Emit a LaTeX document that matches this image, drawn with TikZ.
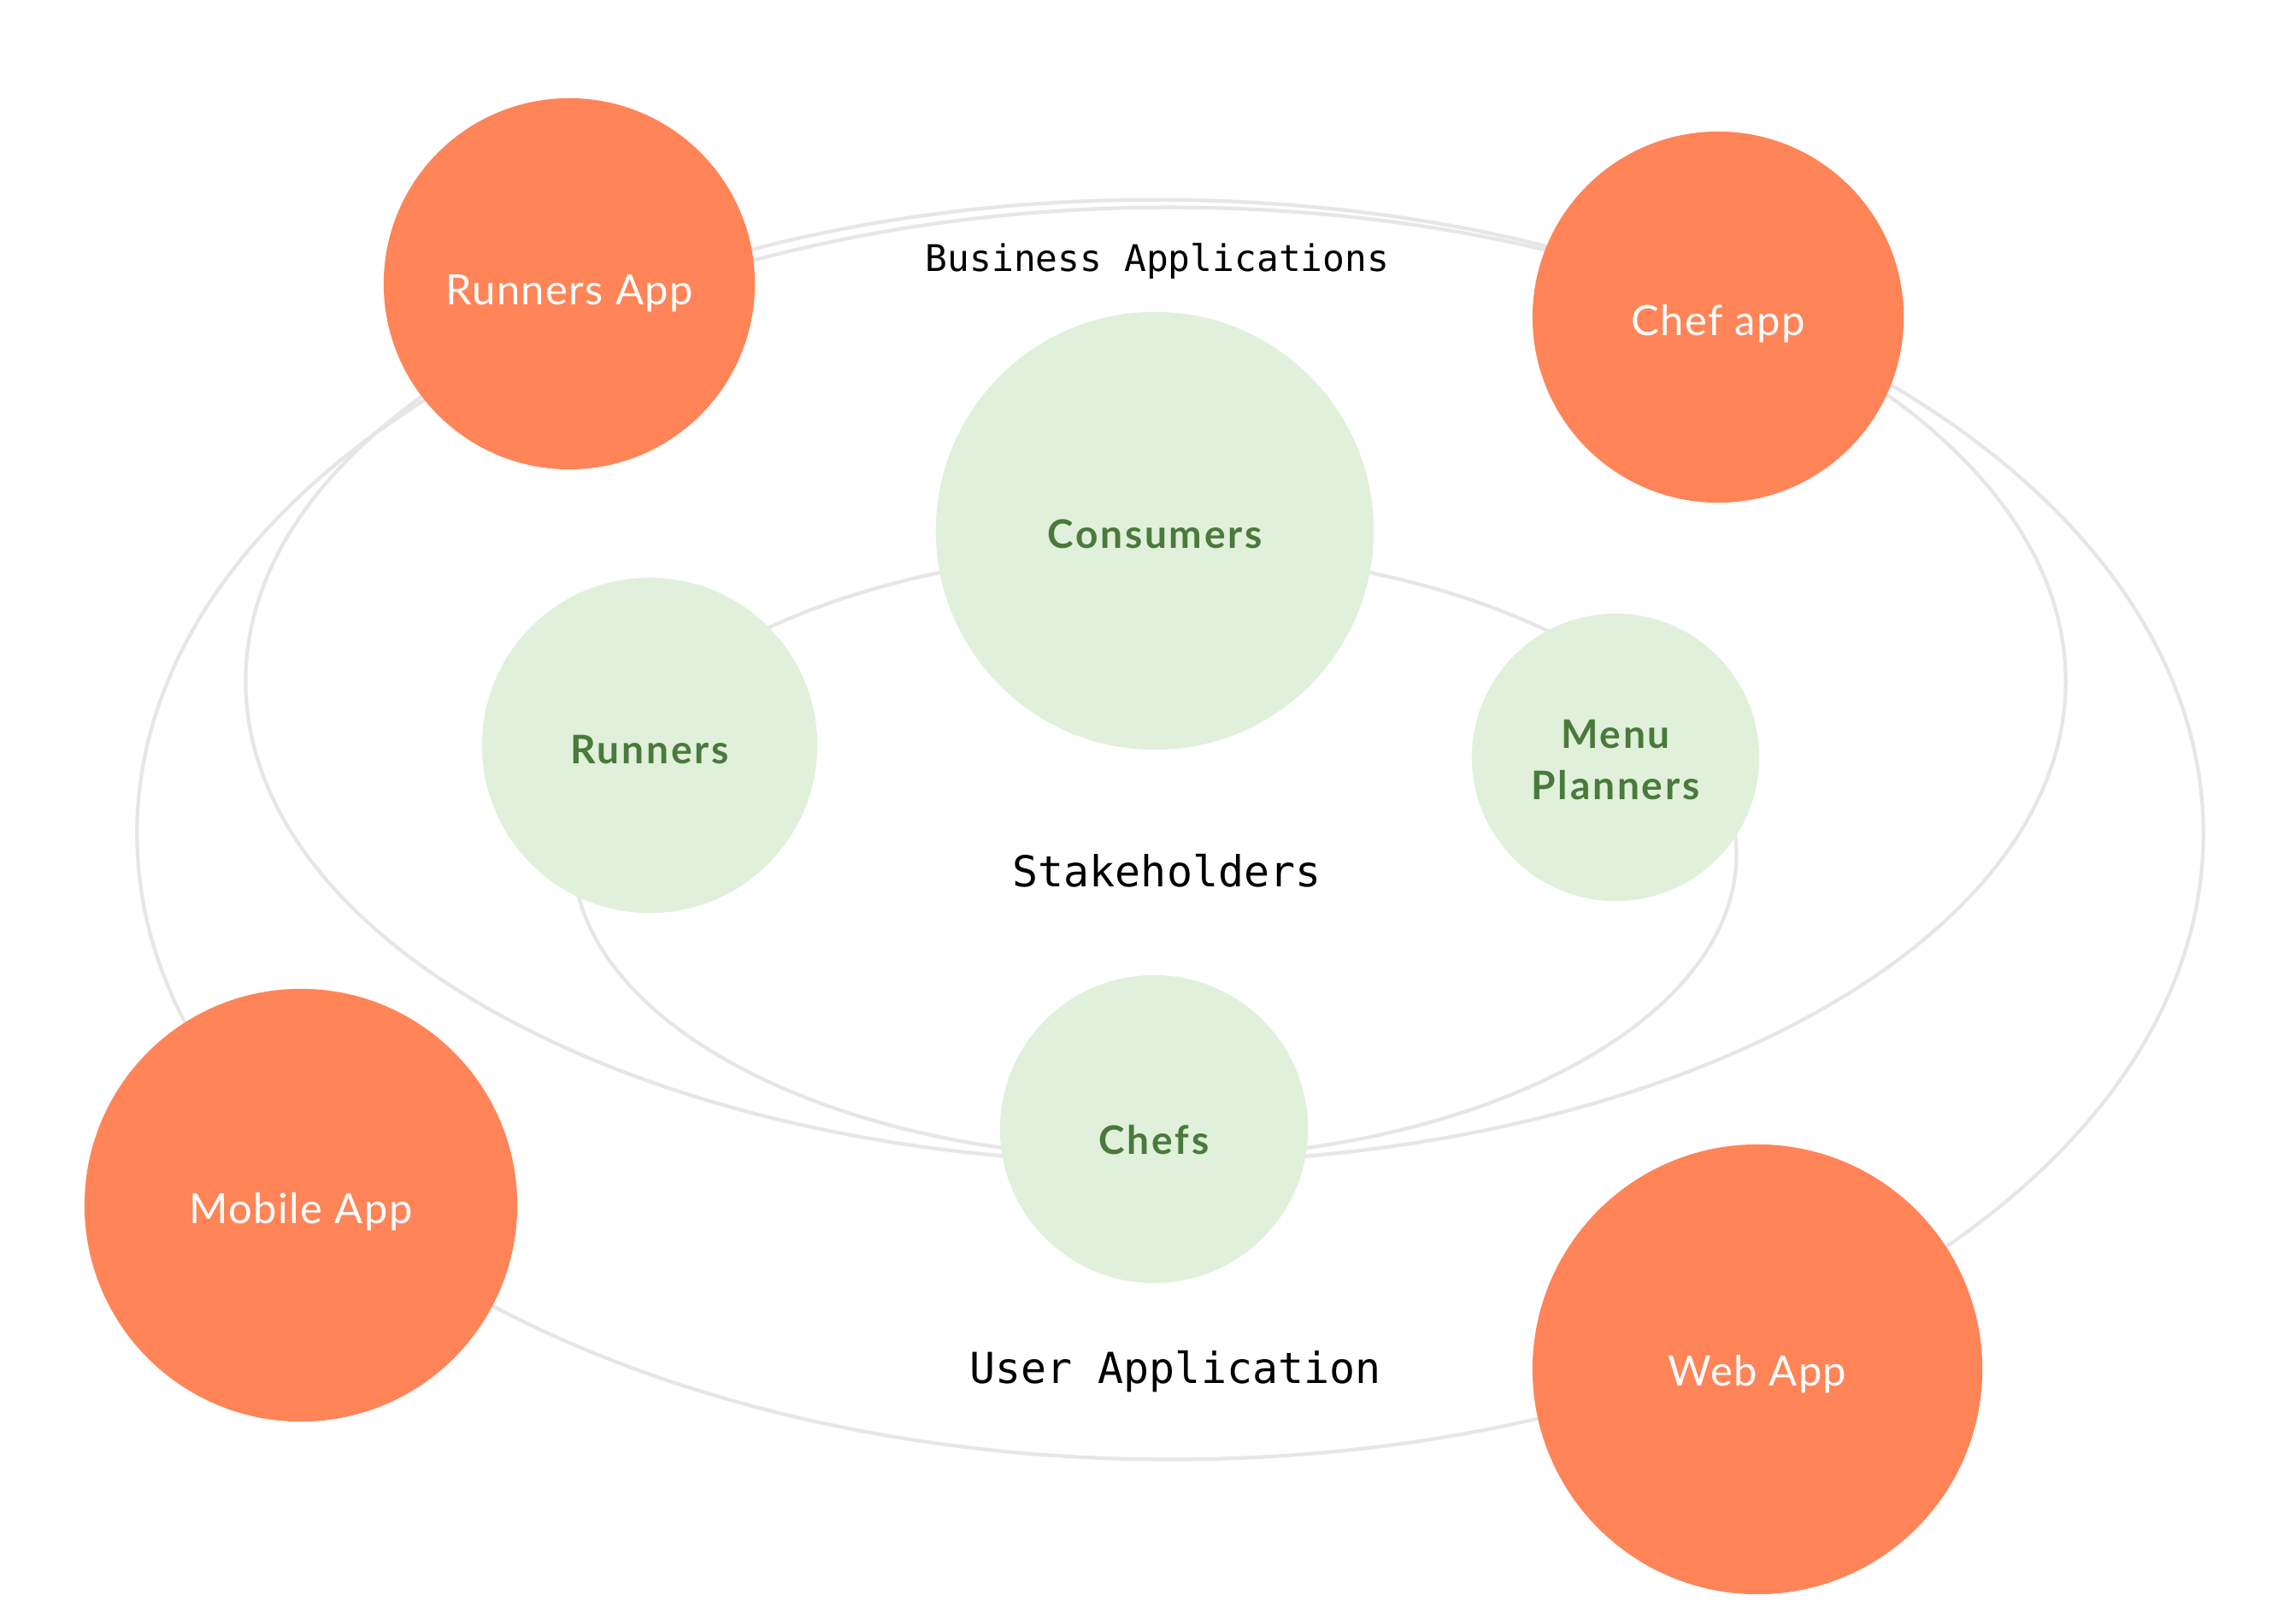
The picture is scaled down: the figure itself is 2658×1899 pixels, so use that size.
\documentclass[tikz,border=0pt]{standalone}
\usepackage{fontspec}
\setmainfont{Lato}
\newfontfamily\applabfont[LetterSpace=3]{Lato}
\newfontfamily\stklabfont[LetterSpace=6]{Lato}
\newfontfamily\grpfont{DejaVu Sans Mono}
\definecolor{appor}{HTML}{FF8457}
\definecolor{stfill}{HTML}{E0F0DA}
\definecolor{sttext}{HTML}{4A7A3B}
\definecolor{ringcol}{HTML}{E6E6E6}
\begin{document}
\begin{tikzpicture}[x=0.01cm,y=-0.01cm,
  appnode/.style={circle, fill=appor, draw=none, inner sep=0pt, text=white,
    font=\applabfont\fontsize{13.9}{16}\selectfont, text height=12pt, text depth=0pt, align=center},
  stakenode/.style={circle, fill=stfill, draw=none, inner sep=0pt, text=sttext,
    font=\stklabfont\bfseries\fontsize{13.1}{17.1}\selectfont, text height=11.4pt, text depth=0pt, align=center},
  ringline/.style={draw=ringcol, line width=1.2pt},
  grplabel/.style={font=\grpfont\fontsize{12.2}{14}\selectfont, text=black, inner sep=0pt,
    text height=8.9pt, text depth=0pt},
  grpbig/.style={grplabel, font=\grpfont\fontsize{14.2}{16}\selectfont, text height=10.35pt}]
\useasboundingbox (0,0) rectangle (2658,1899);
\fill[white] (0,0) rectangle (2658,1899);

% ring centres
\coordinate (uc) at (1369,975);
\coordinate (bc) at (1352,797);
\coordinate (sc) at (1351,1000);

% rings
\draw[ringline] (uc) ellipse [x radius=12.08cm, y radius=7.32cm];
\draw[ringline] (bc) ellipse [x radius=10.64cm, y radius=5.63cm];
\draw[ringline] (sc) ellipse [x radius=6.80cm, y radius=3.55cm];

% application circles
\node[appnode, minimum size=4.34cm, text height=14pt] (rapp) at (666,332) {Runners App};
\node[appnode, minimum size=4.34cm] (capp) at (2010,371) {Chef app};
\node[appnode, minimum size=5.06cm] (mapp) at (352,1410) {Mobile App};
\node[appnode, minimum size=5.26cm, text height=11pt] (wapp) at (2056,1602) {Web App};

% stakeholder circles
\node[stakenode, minimum size=5.12cm] (cons) at (1351,621) {Consumers};
\node[stakenode, minimum size=3.92cm, text height=12.2pt] (runr) at (760,872) {Runners};
\node[stakenode, minimum size=3.36cm, text height=28.2pt] (menu) at (1890,886) {Menu\\Planners};
\node[stakenode, minimum size=3.60cm, text height=16.8pt] (chef) at (1350,1321) {Chefs};

% group labels
\node[grplabel] (lbiz) at (1354,302) {Business Applications};
\node[grpbig] (lstk) at (1365,1019) {Stakeholders};
\node[grpbig] (lusr) at (1375,1600) {User Application};
\end{tikzpicture}
\end{document}
